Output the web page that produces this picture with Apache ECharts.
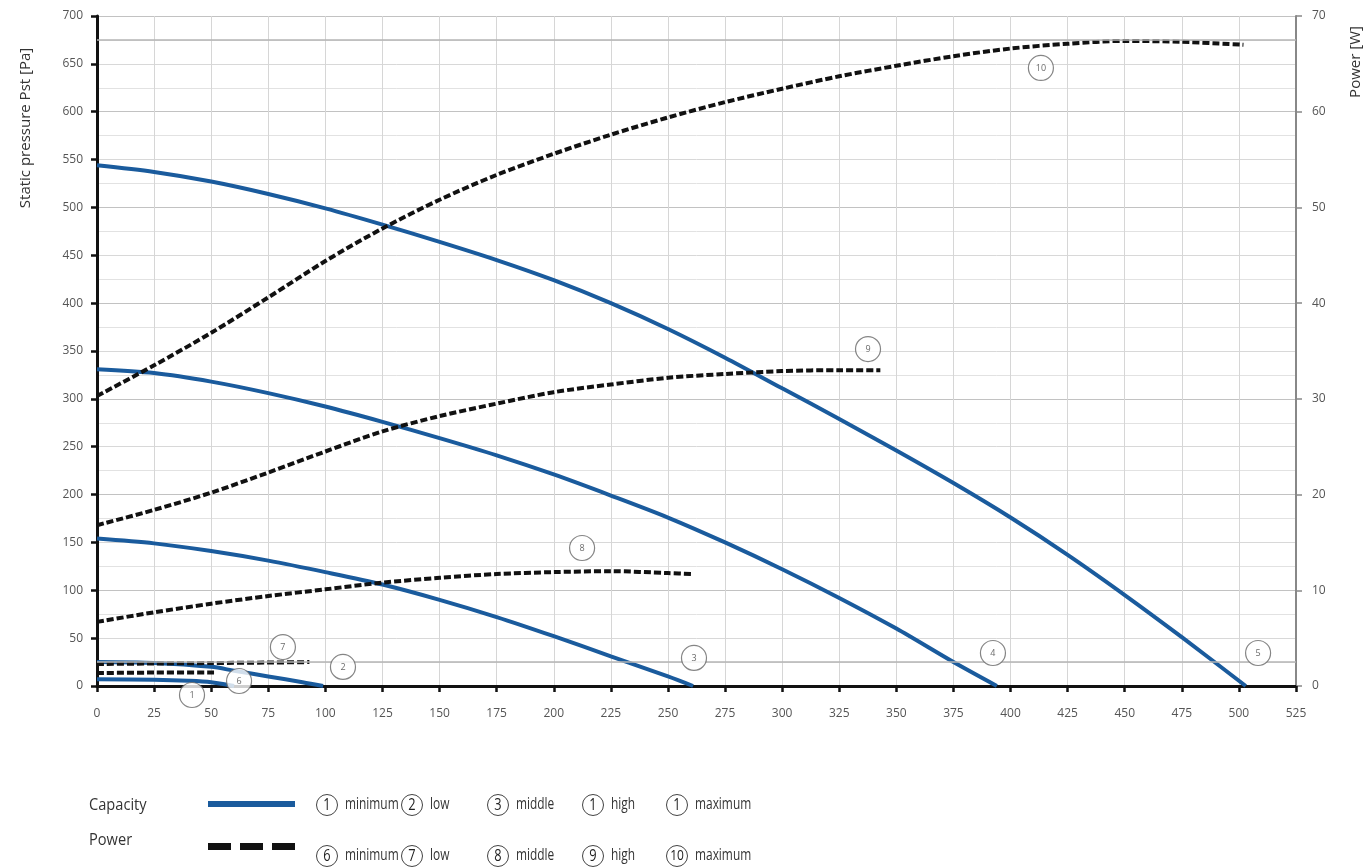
<!DOCTYPE html>
<html>
<head>
<meta charset="utf-8">
<script src="https://cdn.jsdelivr.net/npm/echarts@6/dist/echarts.min.js"></script>
<style>
html,body{margin:0;padding:0;background:#fff;}
#chart{width:1370px;height:868px;}
</style>
</head>
<body>
<div id="chart"></div>
<script>
// ---- Data (flow in m3/h, pressure in Pa, power in W) ----
const cap1Flow = [0, 25, 40, 50, 60];
const cap1Pa   = [7, 6.5, 5.5, 4, 0];
const cap2Flow = [0, 25, 50, 60, 75, 90, 99];
const cap2Pa   = [25, 24, 20, 16, 10, 4, 0];
const cap3Flow = [0, 25, 50, 75, 100, 125, 150, 175, 200, 225, 250, 261];
const cap3Pa   = [154, 149, 141, 131, 119, 106, 90, 72, 52, 31, 10, 0];
const cap4Flow = [0, 25, 50, 75, 100, 125, 150, 175, 200, 225, 250, 275, 300, 325, 350, 375, 394];
const cap4Pa   = [331, 327, 318, 306, 292, 276, 259, 241, 221, 199, 176, 150, 122, 92, 60, 25, 0];
const cap5Flow = [0, 25, 50, 75, 100, 125, 150, 175, 200, 225, 250, 275, 300, 325, 350, 375, 400, 425, 450, 475, 503];
const cap5Pa   = [544, 537, 527, 514, 499, 482, 464, 445, 424, 400, 373, 343, 311, 279, 246, 212, 176, 137, 95, 51, 0];

const pow6Flow = [0, 25, 52];
const pow6W    = [1.35, 1.4, 1.4];
const pow7Flow = [0, 25, 50, 75, 93];
const pow7W    = [2.3, 2.35, 2.4, 2.45, 2.5];
const pow8Flow = [0, 25, 50, 75, 100, 125, 150, 175, 200, 225, 250, 261];
const pow8W    = [6.7, 7.7, 8.6, 9.4, 10.1, 10.8, 11.3, 11.7, 11.9, 12.0, 11.8, 11.7];
const pow9Flow = [0, 25, 50, 75, 100, 125, 150, 175, 200, 225, 250, 275, 300, 325, 343];
const pow9W    = [16.8, 18.4, 20.2, 22.3, 24.5, 26.6, 28.2, 29.5, 30.7, 31.5, 32.2, 32.6, 32.9, 33.0, 33.0];
const pow10Flow = [0, 25, 50, 75, 100, 125, 150, 175, 200, 225, 250, 275, 300, 325, 350, 375, 400, 425, 450, 475, 502];
const pow10W    = [30.3, 33.5, 36.9, 40.6, 44.4, 47.8, 50.8, 53.4, 55.6, 57.6, 59.4, 61.0, 62.4, 63.7, 64.8, 65.8, 66.6, 67.1, 67.4, 67.3, 67.0];

// curve number markers (position in flow / Pa)
const markerText = ['1', '6', '2', '7', '3', '8', '4', '5', '9', '10'];
const markerFlow = [41.6, 62.2, 107.7, 81.4, 261.4, 212.4, 392.3, 508.4, 337.6, 413.3];
const markerPa   = [-9.4, 5.2, 19.9, 40.7, 29.3, 144.2, 34.5, 34.5, 352, 645.7];

// axis ticks
const xMin = 0, xMax = 525, xStep = 25;
const paMin = 0, paMax = 700, paStep = 50;
const wMin = 0, wMax = 70, wStep = 10;

// legend
const legendRowTitles = ['Capacity', 'Power'];
const legendNames = ['minimum', 'low', 'middle', 'high', 'maximum'];
const legendCapNums = ['1', '2', '3', '1', '1'];
const legendPowNums = ['6', '7', '8', '9', '10'];

// ---- Build ----
const zip = (a, b) => a.map((v, i) => [v, b[i]]);
const BLUE = '#1a5b9d';
const FONT = 'Open Sans';

function capSeries(name, f, p, extra) {
  return Object.assign({
    name, type: 'line', yAxisIndex: 0, data: zip(f, p), smooth: 0.3, showSymbol: false,
    lineStyle: { color: BLUE, width: 4 }, z: 3, silent: true
  }, extra || {});
}
function powSeries(name, f, w) {
  return {
    name, type: 'line', yAxisIndex: 1, data: zip(f, w), smooth: 0.3, showSymbol: false,
    lineStyle: { color: '#111', width: 4, type: [7, 3] }, z: 4, silent: true
  };
}

const series = [
  capSeries('cap1', cap1Flow, cap1Pa),
  capSeries('cap2', cap2Flow, cap2Pa),
  capSeries('cap3', cap3Flow, cap3Pa),
  capSeries('cap4', cap4Flow, cap4Pa),
  capSeries('cap5', cap5Flow, cap5Pa, {
    markLine: {
      silent: true, symbol: 'none', label: { show: false },
      lineStyle: { color: '#b4b4b4', type: 'solid', width: 1.5 },
      data: [{ yAxis: 25 }, { yAxis: 675 }]
    }
  }),
  powSeries('pow6', pow6Flow, pow6W),
  powSeries('pow7', pow7Flow, pow7W),
  powSeries('pow8', pow8Flow, pow8W),
  powSeries('pow9', pow9Flow, pow9W),
  powSeries('pow10', pow10Flow, pow10W),
  {
    name: 'markers', type: 'scatter', yAxisIndex: 0, clip: false, z: 6, silent: true,
    data: markerText.map((t, i) => ({ name: t, value: [markerFlow[i], markerPa[i]] })),
    symbol: 'circle', symbolSize: 25,
    itemStyle: { color: '#fff', borderColor: '#666', borderWidth: 1.2 },
    label: { show: true, position: 'inside', formatter: '{b}', fontSize: 9, color: '#444', fontFamily: FONT }
  }
];

// legend / title graphics
const graphic = [];
graphic.push({ type: 'text', x: 26, y: 128, rotation: Math.PI / 2,
  style: { text: 'Static pressure Pst [Pa]', fontSize: 15, fontFamily: FONT, fill: '#333', align: 'center', verticalAlign: 'middle' } });
graphic.push({ type: 'text', x: 1356, y: 62, rotation: Math.PI / 2,
  style: { text: 'Power [W]', fontSize: 15, fontFamily: FONT, fill: '#333', align: 'center', verticalAlign: 'middle' } });

const rowY = [805, 856];
const SX = 0.7;
graphic.push({ type: 'text', x: 89, y: 805, scaleX: 0.86, style: { text: legendRowTitles[0], fontSize: 17, fontFamily: FONT, fill: '#333', verticalAlign: 'middle' } });
graphic.push({ type: 'text', x: 89, y: 840, scaleX: 0.86, style: { text: legendRowTitles[1], fontSize: 17, fontFamily: FONT, fill: '#333', verticalAlign: 'middle' } });
graphic.push({ type: 'rect', shape: { x: 208, y: 801, width: 87, height: 6 }, style: { fill: BLUE } });
[[208, 23], [240, 23], [272, 23]].forEach(s => {
  graphic.push({ type: 'rect', shape: { x: s[0], y: 843, width: s[1], height: 7 }, style: { fill: '#111' } });
});
const circX = [327, 412, 498, 593, 677];
[legendCapNums, legendPowNums].forEach((nums, r) => {
  nums.forEach((n, i) => {
    graphic.push({ type: 'circle', shape: { cx: circX[i], cy: rowY[r], r: 10.5 }, style: { fill: 'none', stroke: '#444', lineWidth: 1 } });
    graphic.push({ type: 'text', x: circX[i], y: rowY[r], scaleX: 0.8, style: { text: n, fontSize: n.length > 1 ? 15 : 16, fontFamily: FONT, fill: '#222', align: 'center', verticalAlign: 'middle' } });
    graphic.push({ type: 'text', x: circX[i] + 18, y: rowY[r] - 1, scaleX: SX, style: { text: legendNames[i], fontSize: 17, fontFamily: FONT, fill: '#333', verticalAlign: 'middle' } });
  });
});

const chart = echarts.init(document.getElementById('chart'), null, { renderer: 'canvas' });
chart.setOption({
  animation: false,
  backgroundColor: '#fff',
  grid: { left: 97, right: 74, top: 16, bottom: 182, containLabel: false },
  xAxis: {
    type: 'value', min: xMin, max: xMax, interval: xStep,
    axisLine: { show: true, lineStyle: { color: '#111', width: 3 } },
    axisTick: { show: true, length: 6, lineStyle: { color: '#111', width: 2.5 } },
    axisLabel: { margin: 22, color: '#555', fontSize: 12, fontFamily: FONT },
    splitLine: { show: true, lineStyle: { color: '#d6d6d6', width: 1 } }
  },
  yAxis: [
    {
      type: 'value', position: 'left', min: paMin, max: paMax, interval: paStep,
      axisLine: { show: true, lineStyle: { color: '#111', width: 3 } },
      axisTick: { show: true, length: 6, lineStyle: { color: '#111', width: 2.5 } },
      axisLabel: { margin: 14, color: '#555', fontSize: 12, fontFamily: FONT },
      splitLine: { show: true, lineStyle: { color: '#d8d8d8', width: 1 } },
      minorTick: { show: false, splitNumber: 2 },
      minorSplitLine: { show: true, lineStyle: { color: '#e2e2e2', width: 1 } }
    },
    {
      type: 'value', position: 'right', min: wMin, max: wMax, interval: wStep,
      axisLine: { show: true, lineStyle: { color: '#888', width: 2 } },
      axisTick: { show: true, length: 6, lineStyle: { color: '#888', width: 1.5 } },
      axisLabel: { margin: 16, color: '#555', fontSize: 12, fontFamily: FONT },
      splitLine: { show: true, lineStyle: { color: '#c2c2c2', width: 1.2 } }
    }
  ],
  series,
  graphic
});
</script>
</body>
</html>
